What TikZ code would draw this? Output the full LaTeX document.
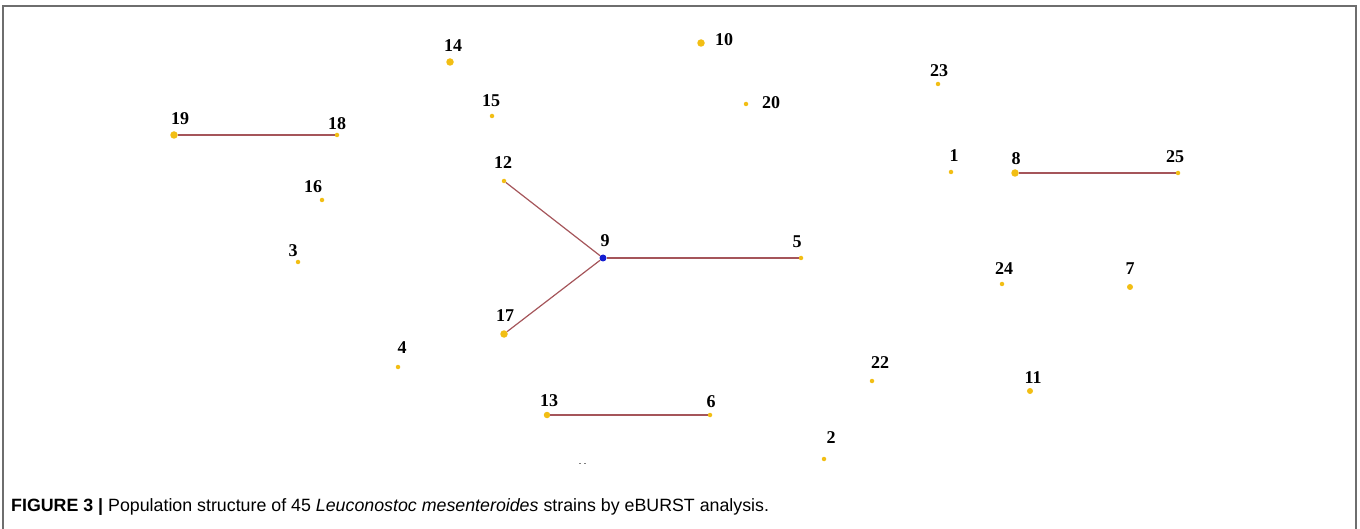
\documentclass[tikz,border=0pt]{standalone}
\usepackage{fontspec}
\setmainfont{Liberation Serif}
\newfontfamily\capfont{Liberation Sans}
\definecolor{dotyel}{RGB}{242,190,20}
\definecolor{edgered}{RGB}{165,85,90}
\definecolor{dotblue}{RGB}{20,30,210}
\definecolor{framegray}{RGB}{110,110,110}
\begin{document}
\begin{tikzpicture}[x=1pt,y=-1pt,
  big/.style={circle,fill=dotyel,inner sep=0pt,minimum size=7.5pt},
  small/.style={circle,fill=dotyel,inner sep=0pt,minimum size=4.5pt},
  hub/.style={circle,fill=dotblue,inner sep=0pt,minimum size=7pt},
  lab/.style={font=\bfseries\fontsize{18}{18}\selectfont,inner sep=0pt},
  link/.style={draw=edgered,line width=1.2pt}]
\useasboundingbox (0,0) rectangle (1360,529);
\draw[framegray,line width=1.5pt] (3,529) -- (3,6) -- (1356,6) -- (1356,529);
% dots
\node[big] (n19) at (174,135) {};
\node[small] (n18) at (337,135) {};
\node[big] (n14) at (450,62) {};
\node[small] (n15) at (492,116) {};
\node[big] (n10) at (701,43) {};
\node[small] (n20) at (746,104) {};
\node[small] (n23) at (938,84) {};
\node[small] (n1) at (951,172) {};
\node[big] (n8) at (1015,173) {};
\node[small] (n25) at (1178,173) {};
\node[small] (n12) at (504,181) {};
\node[small] (n16) at (322,200) {};
\node[hub] (n9) at (603,258) {};
\node[small] (n5) at (801,258) {};
\node[small] (n3) at (298,262) {};
\node[small] (n24) at (1002,284) {};
\node[big,minimum size=6pt] (n7) at (1130,287) {};
\node[big] (n17) at (504,334) {};
\node[small] (n4) at (398,367) {};
\node[small] (n22) at (872,381) {};
\node[big,minimum size=6pt] (n11) at (1030,391) {};
\node[big,minimum size=6.5pt] (n13) at (547,415) {};
\node[small] (n6) at (710,415) {};
\node[small] (n2) at (824,459) {};
% links
\draw[link] (n19) -- (n18);
\draw[link] (n8) -- (n25);
\draw[link] (n13) -- (n6);
\draw[link] (n9) -- (n12);
\draw[link] (n9) -- (n17);
\draw[link] (n9) -- (n5);
% labels
\node[lab] (l19) at (180,119) {19};
\node[lab] (l18) at (337,124) {18};
\node[lab] (l14) at (453,46) {14};
\node[lab] (l15) at (491,101) {15};
\node[lab] (l10) at (724,40) {10};
\node[lab] (l20) at (771,103) {20};
\node[lab] (l23) at (939,71) {23};
\node[lab] (l1) at (954,156) {1};
\node[lab] (l8) at (1016,159) {8};
\node[lab] (l25) at (1175,157) {25};
\node[lab] (l12) at (503,163) {12};
\node[lab] (l16) at (313,187) {16};
\node[lab] (l9) at (605,241) {9};
\node[lab] (l5) at (797,242) {5};
\node[lab] (l3) at (293,251) {3};
\node[lab] (l24) at (1004,269) {24};
\node[lab] (l7) at (1130,269) {7};
\node[lab] (l17) at (505,316) {17};
\node[lab] (l4) at (402,348) {4};
\node[lab] (l22) at (880,363) {22};
\node[lab] (l11) at (1033,378) {11};
\node[lab] (l13) at (549,401) {13};
\node[lab] (l6) at (711,402) {6};
\node[lab] (l2) at (831,438) {2};
\coordinate (m1) at (579,463);
\coordinate (m2) at (586,463);
\draw[gray,line width=0.8pt,dash pattern=on 2pt off 3pt] (m1) -- (m2);
% caption
\node[anchor=base west,inner sep=0pt,font=\capfont\fontsize{17.8}{17.8}\selectfont] (cap) at (11,511)
  {\textbf{FIGURE 3 |} Population structure of 45 \textit{Leuconostoc mesenteroides} strains by eBURST analysis.};
\end{tikzpicture}
\end{document}
